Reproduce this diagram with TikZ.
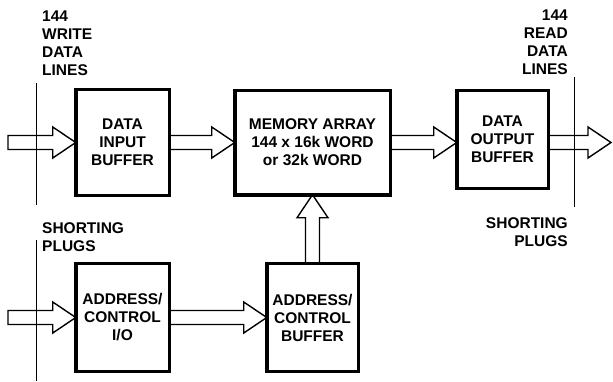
\documentclass[tikz,border=0pt]{standalone}
\usepackage{fontspec}
\setmainfont{Liberation Sans}
\usetikzlibrary{positioning,calc,backgrounds}

% hollow bus arrow from #1 to #2
\newcommand{\shaftw}{7pt}
\newcommand{\headw}{15.5pt}
\newcommand{\headlen}{23pt}
\newcommand{\fatarrow}[2]{%
  \coordinate (fa-s) at (#1);
  \coordinate (fa-t) at (#2);
  \coordinate (fa-h) at ($(fa-t)!\headlen!(fa-s)$);
  \draw[fatline] ($(fa-s)!\shaftw!90:(fa-t)$) -- ($(fa-h)!\shaftw!90:(fa-t)$)
    -- ($(fa-h)!\headw!90:(fa-t)$) -- (fa-t) -- ($(fa-h)!\headw!-90:(fa-t)$)
    -- ($(fa-h)!\shaftw!-90:(fa-t)$) -- ($(fa-s)!\shaftw!-90:(fa-t)$) -- cycle;
}

\begin{document}
\begin{tikzpicture}[x=1pt, y=-1pt,
    every node/.style={font=\fontsize{15.5}{18}\selectfont\bfseries, inner sep=0pt},
    stagebox/.style={draw, line width=3.5pt, fill=white, outer sep=0pt, minimum width=93.5pt, minimum height=106pt, align=center},
    fatline/.style={draw, fill=white, line width=1.4pt, line join=miter},
    plugline/.style={line width=0.9pt},
    note/.style={align=left, anchor=north west}]
    \useasboundingbox (0,0) rectangle (613,381);

    \node (din) [stagebox] at (122.5,142.5) {DATA\\INPUT\\BUFFER};
    \node (mem) [stagebox, minimum width=155.5pt, minimum height=104.5pt, right=65.5pt of din] {MEMORY ARRAY\\144 x 16k WORD\\or 32k WORD};
    \node (dout) [stagebox, minimum width=91.5pt, minimum height=98pt, right=66.5pt of mem.north east, anchor=north west] {DATA\\OUTPUT\\BUFFER};
    \node (aio) [stagebox, minimum height=108pt, below=68pt of din] {ADDRESS/\\CONTROL\\I/O};
    \node (abuf) [stagebox, minimum width=91.5pt, minimum height=108pt, right=97.5pt of aio] {ADDRESS/\\CONTROL\\BUFFER};

    \node (wrlbl) [note] at (42,11) {144\\WRITE\\DATA\\LINES};
    \node (rdlbl) [note, align=right, anchor=north east] at (568,10) {144\\READ\\DATA\\LINES};
    \node (lplug) [note] at (42,222) {SHORTING\\PLUGS};
    \node (rplug) [note, align=right, anchor=north east] at (568,217) {SHORTING\\PLUGS};

    \coordinate (wrin) at (8,142.5);
    \coordinate (ioin) at (8,317.5);
    \coordinate (rdout) at (611,142.5);

    \begin{scope}[on background layer]
        \fatarrow{wrin}{din.west}
        \fatarrow{din.east}{mem.west}
        \fatarrow{mem.east}{mem.east -| dout.west}
        \fatarrow{dout.east |- mem.east}{rdout}
        \fatarrow{ioin}{aio.west}
        \fatarrow{aio.east}{abuf.west}
        \fatarrow{abuf.north}{mem.south}
    \end{scope}

    % shorting plug boundaries
    \draw[plugline] (36,83) -- (36,205);
    \draw[plugline] (36,240) -- (36,381);
    \draw[plugline] (574,77) -- (574,207);
\end{tikzpicture}
\end{document}
